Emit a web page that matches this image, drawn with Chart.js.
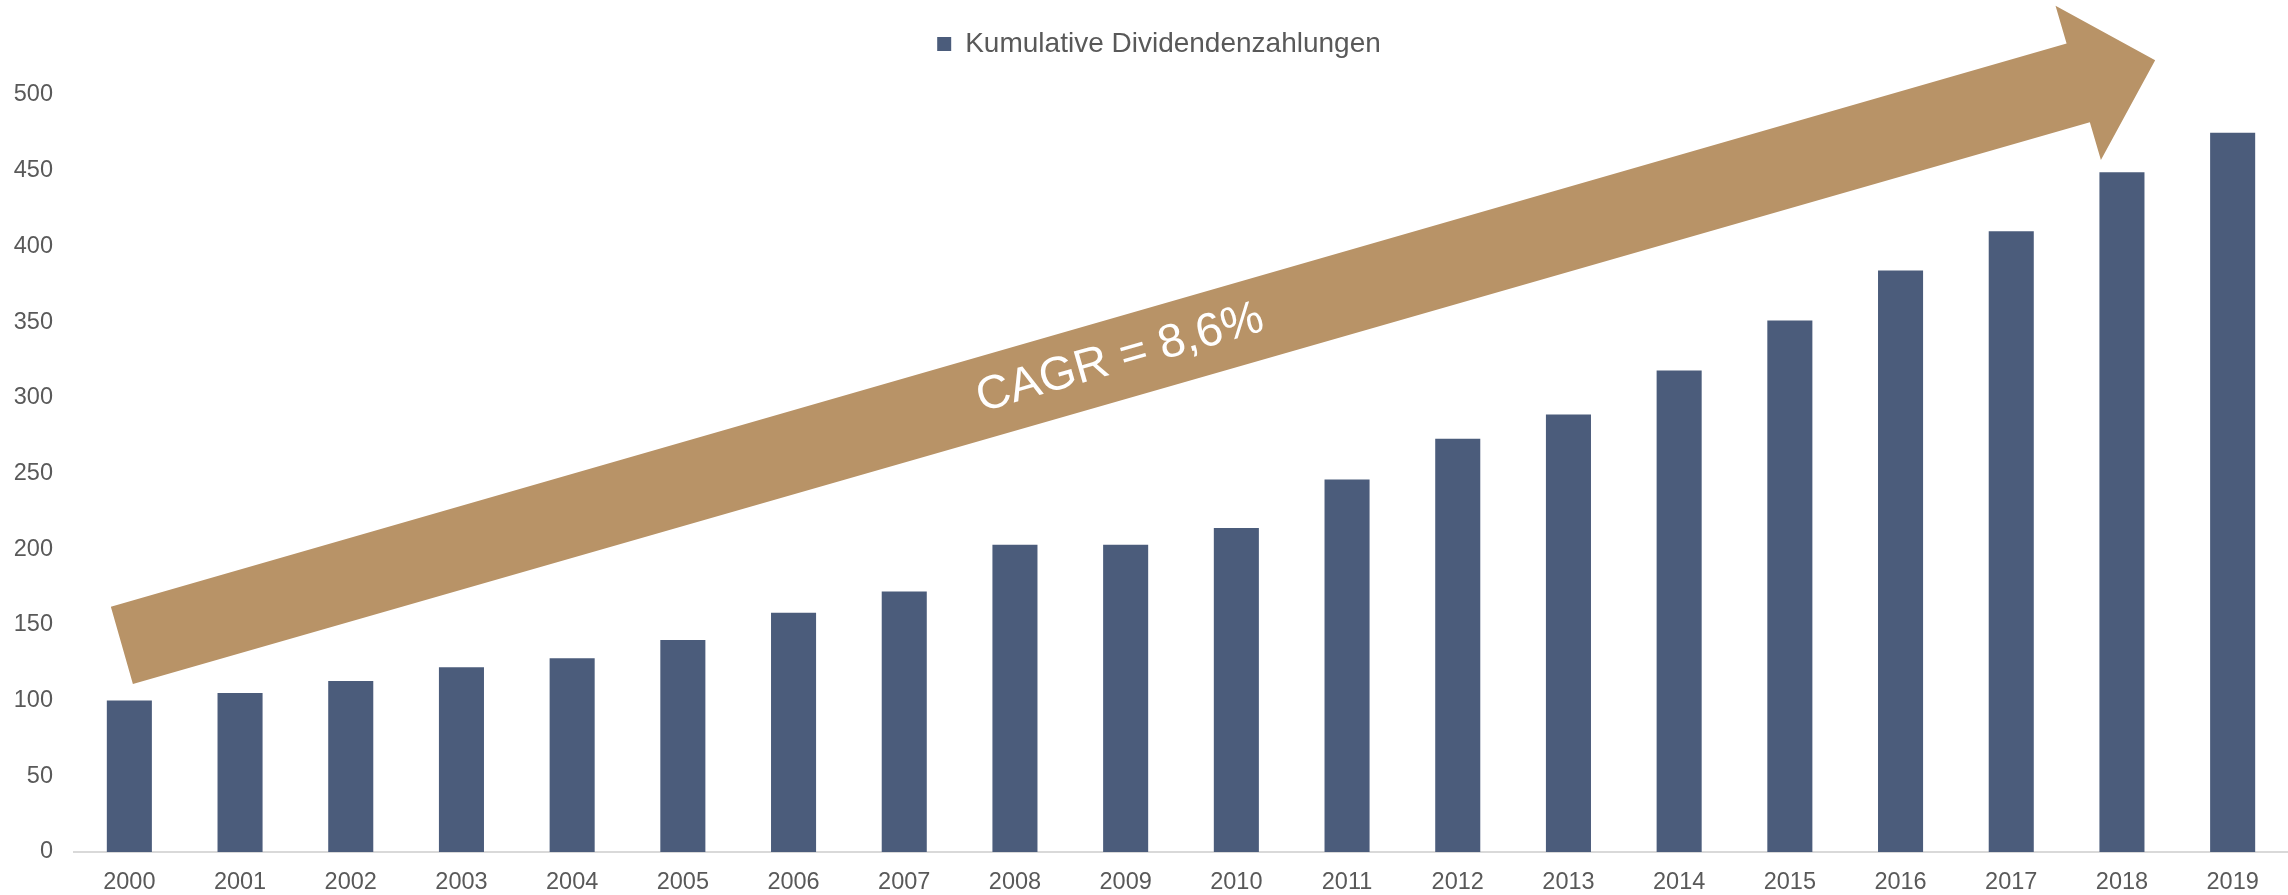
<!DOCTYPE html>
<html><head><meta charset="utf-8">
<script src="https://cdn.jsdelivr.net/npm/chart.js@4.4.1/dist/chart.umd.min.js"></script>
<style>html,body{margin:0;padding:0;background:#fff;overflow:hidden;}#wrap{width:2288px;height:895px;}</style>
</head><body><div id="wrap"><canvas id="c" width="2288" height="895"></canvas></div>
<script>
const categories = ['2000','2001','2002','2003','2004','2005','2006','2007','2008','2009','2010','2011','2012','2013','2014','2015','2016','2017','2018','2019'];
const dividends = [100,105,113,122,128,140,158,172,203,203,214,246,273,289,318,351,384,410,449,475];
const yTicks = [0,50,100,150,200,250,300,350,400,450,500];
const seriesLabel = 'Kumulative Dividendenzahlungen';
// arrow outline in data coordinates (category index, value)
const arrowIdx = [-0.167, 17.50, 17.40, 18.30, 17.81, 17.71, 0.032];
const arrowVal = [162, 534, 559, 523, 457, 482, 111];
const cagrText = 'CAGR = 8,6%';
const cagrIdx = 8.95;
const cagrVal = 326;

const BAR = '#4B5C7B';
const ARROW = '#B89367';
const TXT = '#595959';
const FONT = '"Liberation Sans", Arial, sans-serif';

const legendTweak = {
  id: 'legendTweak',
  beforeLayout(chart) {
    const lg = chart.legend;
    if (lg && !lg._tweaked) {
      const fit = lg.fit;
      lg.fit = function () { fit.call(this); this.height += 27; };
      const draw = lg.draw;
      lg.draw = function () {
        this.ctx.save();
        this.ctx.translate(15, 0);
        draw.call(this);
        this.ctx.restore();
      };
      lg._tweaked = true;
    }
  }
};

const arrowPlugin = {
  id: 'arrowPlugin',
  afterDatasetsDraw(chart) {
    const {ctx, scales: {x, y}} = chart;
    const pts = arrowIdx.map((v, i) => [x.getPixelForValue(v), y.getPixelForValue(arrowVal[i])]);
    ctx.save();
    ctx.fillStyle = ARROW;
    ctx.beginPath();
    pts.forEach((p, i) => i ? ctx.lineTo(p[0], p[1]) : ctx.moveTo(p[0], p[1]));
    ctx.closePath();
    ctx.fill();
    const ang = Math.atan2(pts[1][1] - pts[0][1], pts[1][0] - pts[0][0]);
    ctx.translate(x.getPixelForValue(cagrIdx), y.getPixelForValue(cagrVal));
    ctx.rotate(ang);
    ctx.fillStyle = '#FFFFFF';
    ctx.font = '47px ' + FONT;
    ctx.textAlign = 'center';
    ctx.textBaseline = 'middle';
    ctx.fillText(cagrText, 0, 0);
    ctx.restore();
  }
};

new Chart(document.getElementById('c'), {
  type: 'bar',
  data: {
    labels: categories,
    datasets: [{
      label: seriesLabel,
      data: dividends,
      backgroundColor: BAR,
      borderWidth: 0,
      barPercentage: 0.407,
      categoryPercentage: 1.0
    }]
  },
  options: {
    responsive: false,
    animation: false,
    devicePixelRatio: 1,
    layout: {padding: {top: 12, right: 0, left: 0, bottom: 0}},
    plugins: {
      legend: {
        display: true,
        position: 'top',
        labels: {
          color: TXT,
          font: {family: FONT, size: 28},
          boxWidth: 14, boxHeight: 14,
          padding: 18
        }
      },
      tooltip: {enabled: false}
    },
    scales: {
      x: {
        grid: {display: false, drawTicks: false},
        border: {display: true, color: '#D9D9D9', width: 2},
        ticks: {color: TXT, font: {family: FONT, size: 23.5}, padding: 16, maxRotation: 0, autoSkip: false},
        afterFit(s) { s.height = 43; }
      },
      y: {
        min: 0, max: 500,
        afterBuildTicks(s) { s.ticks = yTicks.map(v => ({value: v})); },
        grid: {display: false, drawTicks: false},
        border: {display: false},
        ticks: {color: TXT, font: {family: FONT, size: 23.5}, padding: 21},
        afterFit(s) { s.width = 74; }
      }
    }
  },
  plugins: [legendTweak, arrowPlugin]
});
</script></body></html>
